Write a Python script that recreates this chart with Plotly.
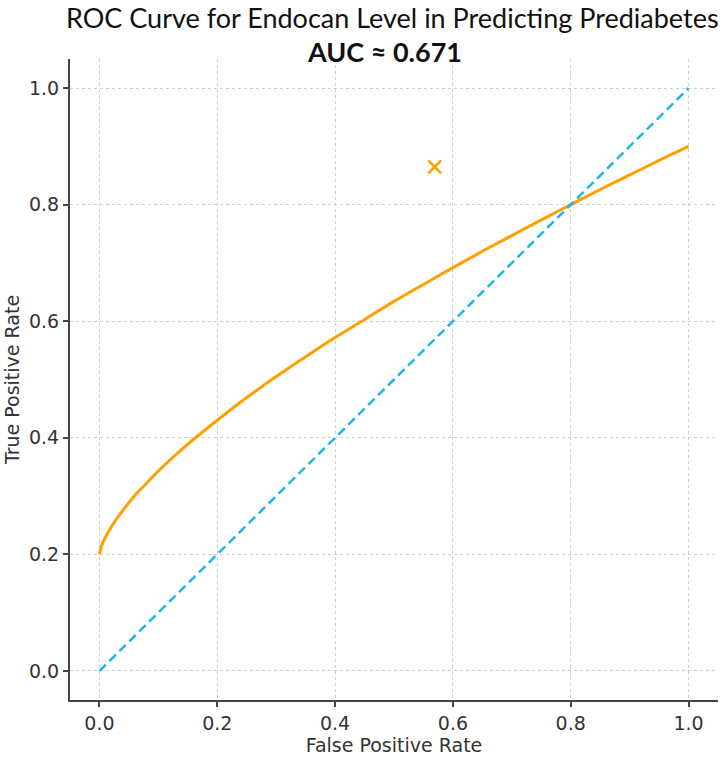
import plotly.graph_objects as go

# ROC curve
fpr = [0.0, 0.005, 0.01, 0.02, 0.04, 0.06, 0.08, 0.10, 0.15, 0.20, 0.25, 0.30, 0.35,
       0.40, 0.45, 0.50, 0.55, 0.60, 0.65, 0.70, 0.75, 0.80, 0.85, 0.90, 0.95, 1.0]
tpr = [0.200, 0.218, 0.229, 0.247, 0.276, 0.301, 0.322, 0.343, 0.389, 0.430, 0.469, 0.505, 0.539,
       0.572, 0.603, 0.634, 0.663, 0.692, 0.720, 0.747, 0.774, 0.800, 0.826, 0.851, 0.876, 0.900]

# chance line
chance_x = [0.0, 1.0]
chance_y = [0.0, 1.0]

# optimal point marker
best_x = [0.569]
best_y = [0.865]

title_line1 = "ROC Curve for Endocan Level in Predicting Prediabetes"
title_line2 = "AUC ≈ 0.671"
x_title = "False Positive Rate"
y_title = "True Positive Rate"
tick_vals = [0.0, 0.2, 0.4, 0.6, 0.8, 1.0]
tick_text = ["0.0", "0.2", "0.4", "0.6", "0.8", "1.0"]

ORANGE = "#FFA000"
BLUE = "#1EB4EC"

fig = go.Figure()
fig.add_trace(go.Scatter(x=fpr, y=tpr, mode="lines", line=dict(color=ORANGE, width=3, shape="spline"),
                         showlegend=False, hoverinfo="skip"))
fig.add_trace(go.Scatter(x=chance_x, y=chance_y, mode="lines",
                         line=dict(color=BLUE, width=2.5, dash="9px,5px"), showlegend=False))
fig.add_trace(go.Scatter(x=best_x, y=best_y, mode="markers",
                         marker=dict(symbol="x-thin", size=13, line=dict(color=ORANGE, width=2.5)),
                         showlegend=False))

axis_common = dict(
    range=[-0.05, 1.05], tickvals=tick_vals, ticktext=tick_text,
    showline=True, linecolor="#444444", linewidth=2, mirror=False,
    ticks="outside", ticklen=5, tickwidth=1.5, tickcolor="#444444",
    showgrid=True, gridcolor="#D0D0D0", griddash="dot", gridwidth=1,
    zeroline=False, tickfont=dict(family="DejaVu Sans", size=19, color="#333333"),
    fixedrange=True,
)

fig.update_layout(
    width=726, height=757,
    margin=dict(l=70, r=8, t=59, b=57),
    paper_bgcolor="white", plot_bgcolor="white",
    xaxis=dict(**axis_common, title=dict(text=x_title, font=dict(family="DejaVu Sans", size=19, color="#333333"), standoff=2)),
    yaxis=dict(**axis_common, title=dict(text=y_title, font=dict(family="DejaVu Sans", size=19, color="#333333"), standoff=4)),
    annotations=[
        dict(text=title_line1, xref="paper", yref="paper", x=0.497, y=1.0, yshift=42,
             showarrow=False, font=dict(family="Lato", size=27, color="#111111"), xanchor="center", yanchor="middle"),
        dict(text="<b>" + title_line2 + "</b>", xref="paper", yref="paper", x=0.486, y=1.0, yshift=8,
             showarrow=False, font=dict(family="Lato", size=27, color="#111111"), xanchor="center", yanchor="middle"),
    ],
)

fig.write_html("out.html")
